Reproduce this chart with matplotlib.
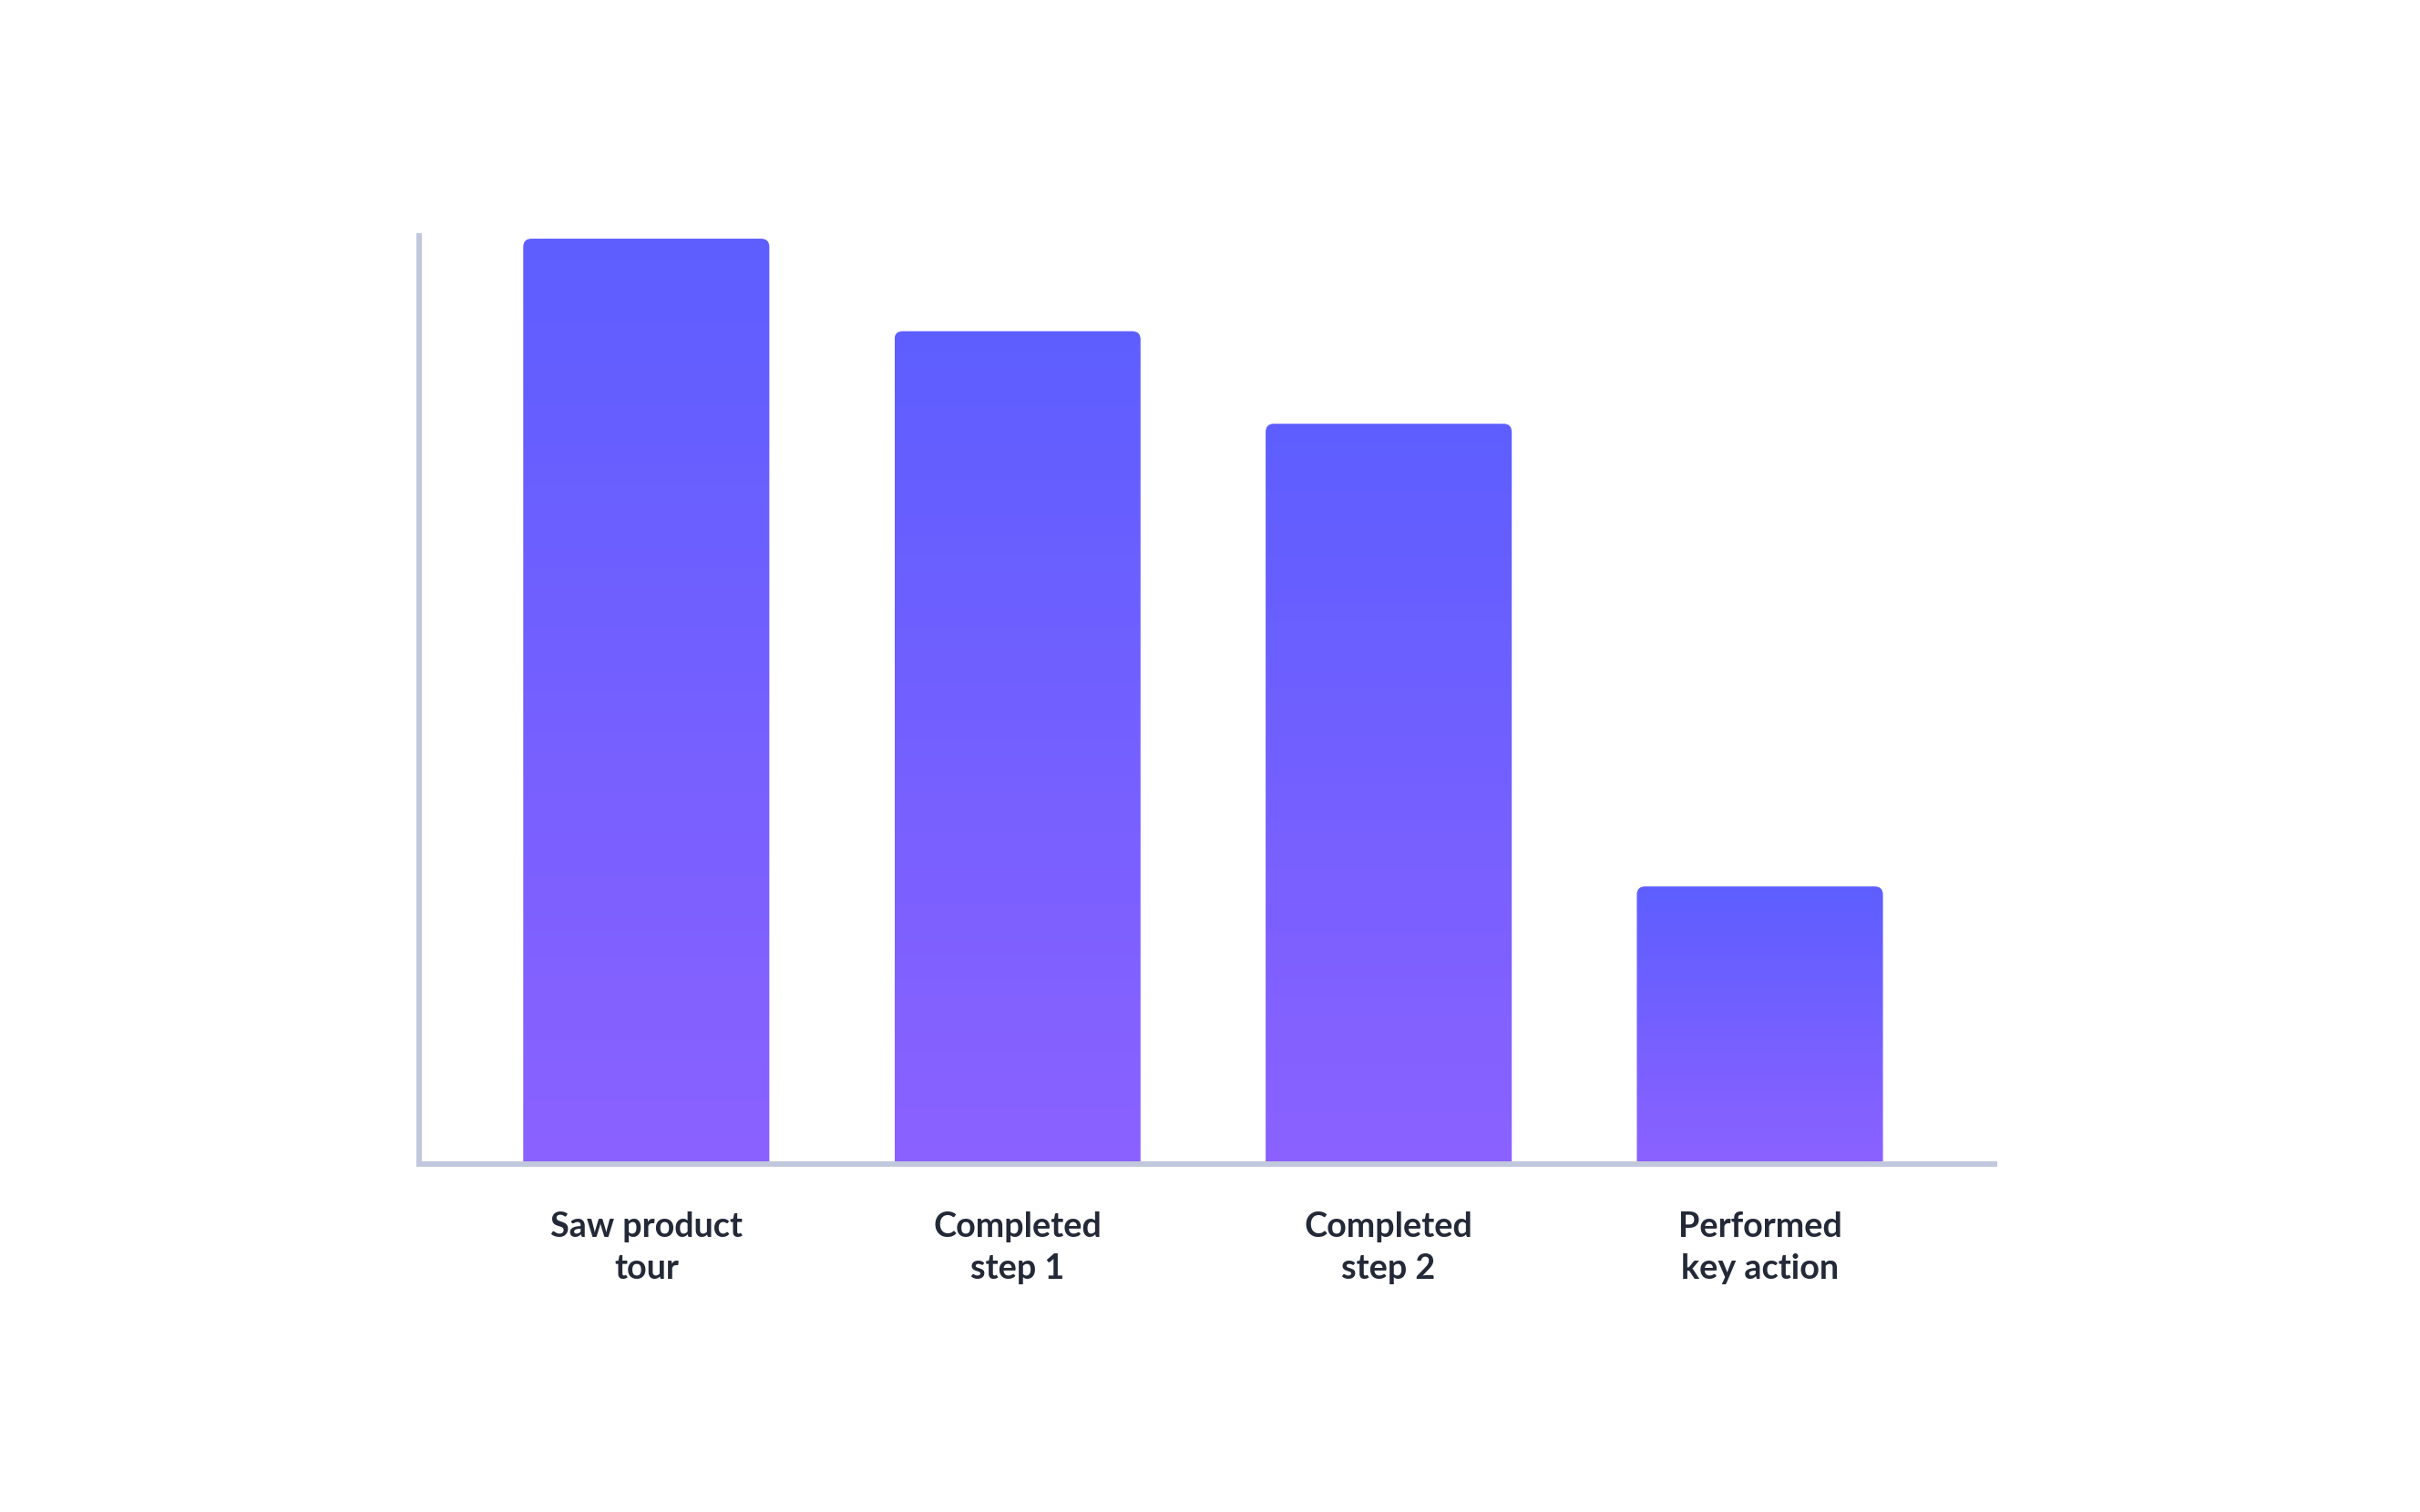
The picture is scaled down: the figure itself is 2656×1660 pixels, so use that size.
import numpy as np
import matplotlib
matplotlib.use("Agg")
import matplotlib.pyplot as plt
from matplotlib.patches import FancyBboxPatch
from matplotlib.colors import to_rgb

steps = ["Saw product\ntour", "Completed\nstep 1", "Completed\nstep 2", "Performed\nkey action"]
users = [100, 90, 80, 30]

top_color = "#5E5EFF"
bottom_color = "#8B62FF"
axis_color = "#C1C7DC"
text_color = "#232936"

plt.rcParams["font.family"] = ["Lato", "DejaVu Sans"]

fig = plt.figure(figsize=(13.28, 8.3), dpi=200)
ax = fig.add_axes([0.17319, 0.23012, 0.82417 - 0.17319, 0.84398 - 0.23012])

xlim = (-0.612, 3.632)
ylim = (0, 100.3)
bar_w = 0.663
rx = 0.022      # corner radius in x data units (~9px)
ry = 0.886      # corner radius in y data units (~9px)

grad = np.linspace(0, 1, 256)[:, None, None]
c_top = np.array(to_rgb(top_color))
c_bot = np.array(to_rgb(bottom_color))
gradient = c_top * (1 - grad) + c_bot * grad

for i, v in enumerate(users):
    x0 = i - bar_w / 2
    clip = FancyBboxPatch((x0, -5), bar_w, v + 5,
                          boxstyle=f"round,pad=0,rounding_size={rx}",
                          mutation_aspect=ry / rx,
                          transform=ax.transData, facecolor="none", edgecolor="none")
    ax.add_patch(clip)
    im = ax.imshow(gradient, extent=(x0, x0 + bar_w, 0, v), origin="upper",
                   aspect="auto", interpolation="bilinear", zorder=2)
    im.set_clip_path(clip)

ax.set_xlim(*xlim)
ax.set_ylim(*ylim)

for side in ["top", "right"]:
    ax.spines[side].set_visible(False)
for side in ["left", "bottom"]:
    ax.spines[side].set_color(axis_color)
    ax.spines[side].set_linewidth(2.16)
    ax.spines[side].set_zorder(3)

ax.set_yticks([])
ax.set_xticks(range(len(steps)))
ax.set_xticklabels(steps, fontsize=13.6, fontweight="bold", color=text_color,
                   linespacing=1.43)
# baseline here anchors the last line of each label
for lab in ax.get_xticklabels():
    lab.set_verticalalignment("baseline")
ax.tick_params(axis="x", length=0, pad=45.4)

fig.savefig("out.png", dpi=200, facecolor="white")
